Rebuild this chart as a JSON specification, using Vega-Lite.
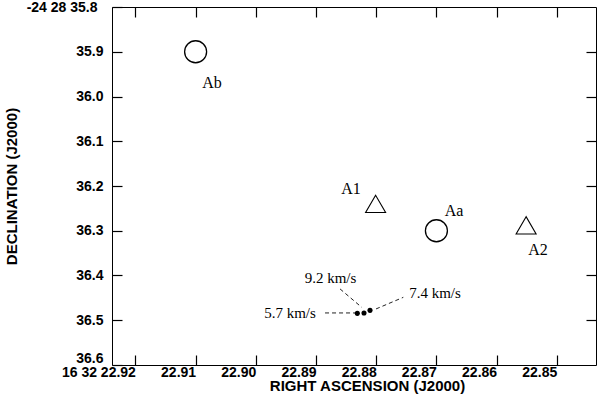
{
  "$schema": "https://vega.github.io/schema/vega-lite/v6.json",
  "width": 484,
  "height": 358,
  "autosize": {"type": "none"},
  "padding": {"left": 112, "top": 7, "right": 4, "bottom": 31},
  "background": "white",
  "config": {
    "view": {"stroke": "black", "strokeWidth": 1},
    "axis": {
      "domain": false,
      "grid": false,
      "ticks": true,
      "tickColor": "black",
      "tickWidth": 1.2,
      "tickSize": 10,
      "offset": -10,
      "zindex": 1,
      "labelFont": "Liberation Sans",
      "labelFontWeight": "bold",
      "labelFontSize": 14,
      "labelColor": "black",
      "labelOverlap": false,
      "labelFlush": false,
      "titleFont": "Liberation Sans",
      "titleFontWeight": "bold",
      "titleFontSize": 15,
      "titleColor": "black"
    }
  },
  "datasets": {
    "sources": [
      {"name": "Ab", "ra": 22.910, "dec": 35.900, "kind": "continuum"},
      {"name": "Aa", "ra": 22.870, "dec": 36.300, "kind": "continuum"},
      {"name": "A1", "ra": 22.8801, "dec": 36.240, "kind": "peak"},
      {"name": "A2", "ra": 22.8551, "dec": 36.288, "kind": "peak"}
    ],
    "sourceLabels": [
      {"label": "Ab", "ra": 22.90728, "dec": 35.9707},
      {"label": "A1", "ra": 22.88419, "dec": 36.2056},
      {"label": "Aa", "ra": 22.86708, "dec": 36.2548},
      {"label": "A2", "ra": 22.85312, "dec": 36.3421}
    ],
    "spots": [
      {"velocity": "5.7 km/s", "ra": 22.88314, "dec": 36.4846},
      {"velocity": "9.2 km/s", "ra": 22.88203, "dec": 36.4837},
      {"velocity": "7.4 km/s", "ra": 22.88103, "dec": 36.4779}
    ],
    "leaders": [
      {"velocity": "5.7 km/s", "ra": 22.88850, "dec": 36.48367, "ra2": 22.88352, "dec2": 36.48367},
      {"velocity": "9.2 km/s", "ra": 22.88601, "dec": 36.42998, "ra2": 22.88241, "dec2": 36.47114},
      {"velocity": "7.4 km/s", "ra": 22.88003, "dec": 36.47472, "ra2": 22.87550, "dec2": 36.44877}
    ],
    "spotLabels": [
      {"velocity": "5.7 km/s", "ra": 22.89432, "dec": 36.4846},
      {"velocity": "9.2 km/s", "ra": 22.88759, "dec": 36.4058},
      {"velocity": "7.4 km/s", "ra": 22.87023, "dec": 36.4394}
    ]
  },
  "encoding": {
    "x": {"field": "ra", "type": "quantitative", "scale": {"domain": [22.84349, 22.92389], "reverse": true, "nice": false, "zero": false}, "axis": null},
    "y": {"field": "dec", "type": "quantitative", "scale": {"domain": [35.8, 36.6], "reverse": true, "nice": false, "zero": false}, "axis": null}
  },
  "layer": [
    {
      "data": {"name": "sources"},
      "transform": [{"filter": "datum.kind == 'continuum'"}],
      "mark": {"type": "point", "shape": "circle", "size": 484, "filled": false, "stroke": "black", "strokeWidth": 1.3, "opacity": 1},
      "encoding": {
        "x": {
          "field": "ra", "type": "quantitative",
          "scale": {"domain": [22.84349, 22.92389], "reverse": true, "nice": false, "zero": false},
          "axis": {
            "orient": "bottom",
            "offset": -10,
            "values": [22.92, 22.91, 22.90, 22.89, 22.88, 22.87, 22.86, 22.85],
            "format": ".2f",
            "labelExpr": "abs(datum.value - 22.92) < 0.0001 ? '16 32 22.92' : datum.label",
            "labelAlign": "right",
            "labelBaseline": "top",
            "labelPadding": 0,
            "title": "RIGHT ASCENSION (J2000)",
            "titleX": 255,
            "titleY": 30,
            "titleAlign": "center",
            "titleBaseline": "middle"
          }
        },
        "y": {
          "field": "dec", "type": "quantitative",
          "scale": {"domain": [35.8, 36.6], "reverse": true, "nice": false, "zero": false},
          "axis": {
            "orient": "left",
            "offset": -10,
            "values": [35.8, 35.9, 36.0, 36.1, 36.2, 36.3, 36.4, 36.5, 36.6],
            "format": ".1f",
            "labelExpr": "abs(datum.value - 35.8) < 0.0001 ? '-24 28 35.8' : datum.label",
            "labelAlign": "right",
            "labelBaseline": {"condition": {"test": "datum.value > 36.59", "value": "bottom"}, "value": "middle"},
            "labelPadding": {"condition": {"test": "datum.value < 35.81", "value": 15}, "value": 9},
            "title": "DECLINATION (J2000)",
            "titleAngle": -90,
            "titleX": -111,
            "titleY": 179,
            "titleAlign": "center",
            "titleBaseline": "middle"
          }
        }
      }
    },
    {
      "data": {"name": "sources"},
      "transform": [{"filter": "datum.kind == 'peak'"}],
      "mark": {"type": "point", "shape": "triangle-up", "size": 400, "filled": false, "stroke": "black", "strokeWidth": 1.1, "opacity": 1},
      "encoding": {
        "x": {
          "field": "ra", "type": "quantitative",
          "scale": {"domain": [22.84349, 22.92389], "reverse": true, "nice": false, "zero": false},
          "axis": {"orient": "top", "offset": -10, "values": [22.92, 22.91, 22.90, 22.89, 22.88, 22.87, 22.86, 22.85], "labels": false, "title": null}
        },
        "y": {
          "field": "dec", "type": "quantitative",
          "scale": {"domain": [35.8, 36.6], "reverse": true, "nice": false, "zero": false},
          "axis": {"orient": "right", "offset": -10, "values": [35.9, 36.0, 36.1, 36.2, 36.3, 36.4, 36.5], "labels": false, "title": null}
        }
      }
    },
    {
      "data": {"name": "sourceLabels"},
      "mark": {"type": "text", "font": "Liberation Serif", "fontSize": 16, "color": "black", "align": "center", "baseline": "middle"},
      "encoding": {"text": {"field": "label"}}
    },
    {
      "data": {"name": "leaders"},
      "mark": {"type": "rule", "strokeDash": [4, 3], "strokeWidth": 1, "color": "#222222"},
      "encoding": {
        "x2": {"field": "ra2"},
        "y2": {"field": "dec2"}
      }
    },
    {
      "data": {"name": "spots"},
      "mark": {"type": "point", "shape": "circle", "size": 26, "filled": true, "color": "black", "opacity": 1}
    },
    {
      "data": {"name": "spotLabels"},
      "mark": {"type": "text", "font": "Liberation Serif", "fontSize": 15, "color": "black", "align": "center", "baseline": "middle"},
      "encoding": {"text": {"field": "velocity"}}
    }
  ],
  "resolve": {"axis": {"x": "independent", "y": "independent"}}
}
